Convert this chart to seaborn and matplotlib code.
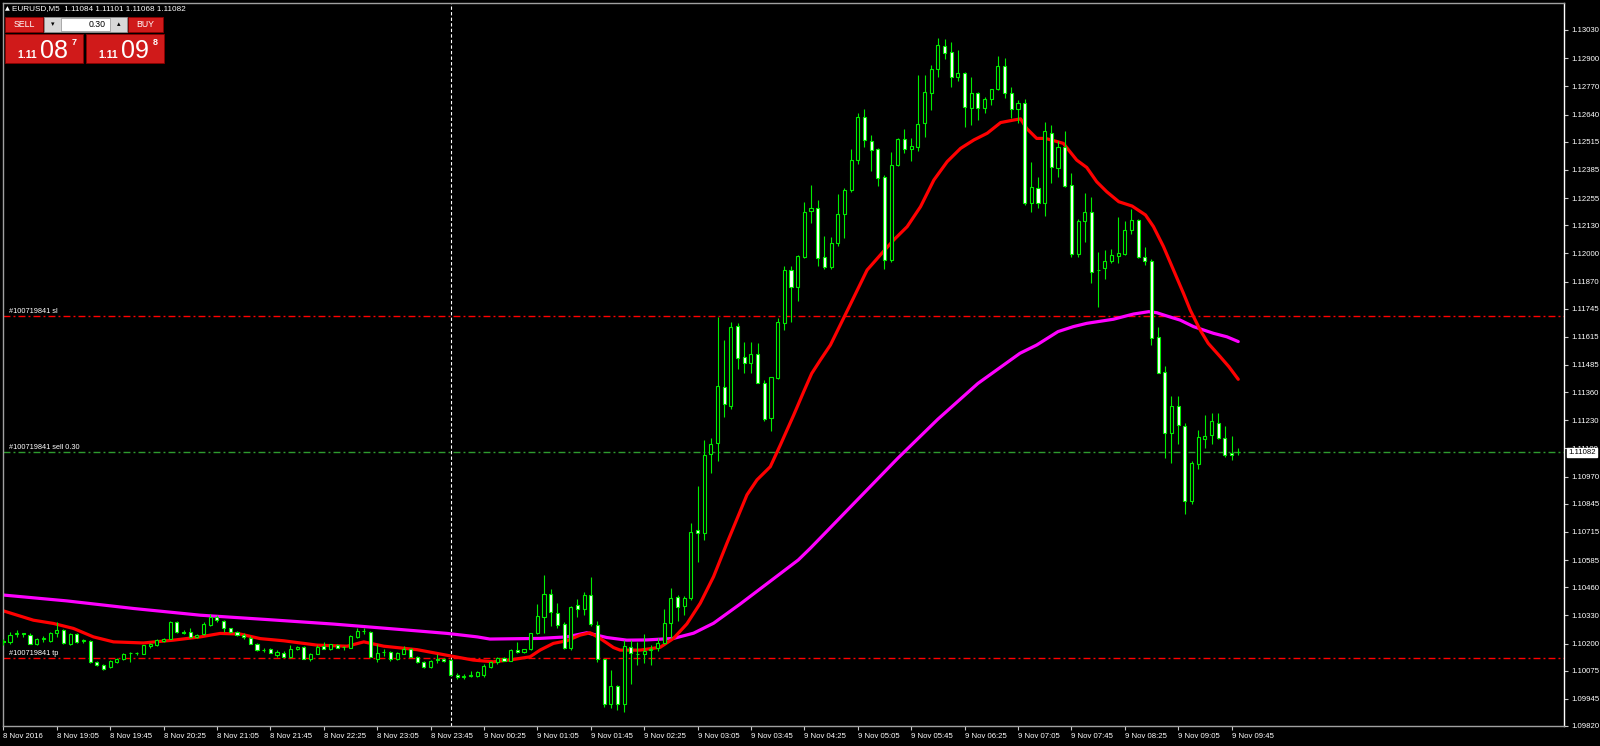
import numpy as np
import pandas as pd
import matplotlib
matplotlib.use("Agg")
import matplotlib.pyplot as plt
from matplotlib.patches import Rectangle
import seaborn as sns

# EURUSD M5 candles, 8 Nov 18:25 .. 9 Nov 09:50 (one value per bar)
opens = [1.10213, 1.10208, 1.10245, 1.10247, 1.10242, 1.10200, 1.10222, 1.10212, 1.10247, 1.10262,
         1.10200, 1.10243, 1.10214, 1.10213, 1.10116, 1.10100, 1.10093, 1.10116, 1.10127, 1.10156,
         1.10157, 1.10154, 1.10187, 1.10193, 1.10214, 1.10223, 1.10300, 1.10254, 1.10254, 1.10231,
         1.10243, 1.10285, 1.10323, 1.10305, 1.10270, 1.10254, 1.10239, 1.10228, 1.10200, 1.10172,
         1.10173, 1.10146, 1.10158, 1.10139, 1.10174, 1.10185, 1.10127, 1.10154, 1.10188, 1.10174,
         1.10193, 1.10185, 1.10182, 1.10231, 1.10257, 1.10254, 1.10131, 1.10162, 1.10162, 1.10127,
         1.10154, 1.10173, 1.10139, 1.10116, 1.10093, 1.10127, 1.10131, 1.10123, 1.10055, 1.10048,
         1.10052, 1.10049, 1.10055, 1.10093, 1.10113, 1.10132, 1.10121, 1.10170, 1.10159, 1.10173,
         1.10247, 1.10324, 1.10431, 1.10342, 1.10290, 1.10178, 1.10378, 1.10358, 1.10424, 1.10285,
         1.10127, 1.09921, 1.10004, 1.09921, 1.10185, 1.10150, 1.10152, 1.10170, 1.10178, 1.10204,
         1.10297, 1.10414, 1.10374, 1.10409, 1.10724, 1.10709, 1.11075, 1.11127, 1.11385, 1.11297,
         1.11665, 1.11520, 1.11493, 1.11534, 1.11400, 1.11239, 1.11424, 1.11680, 1.11923, 1.11843,
         1.11985, 1.12197, 1.12207, 1.11981, 1.11939, 1.12049, 1.12180, 1.12292, 1.12431, 1.12627,
         1.12520, 1.12480, 1.12351, 1.11969, 1.12408, 1.12526, 1.12480, 1.12492, 1.12603, 1.12738,
         1.12849, 1.12956, 1.12929, 1.12812, 1.12830, 1.12669, 1.12741, 1.12669, 1.12710, 1.12756,
         1.12864, 1.12741, 1.12664, 1.12695, 1.12230, 1.12300, 1.12234, 1.12556, 1.12392, 1.12489,
         1.12315, 1.11997, 1.12150, 1.12192, 1.11923, 1.11931, 1.11966, 1.11988, 1.11997, 1.12108,
         1.12154, 1.11982, 1.11966, 1.11613, 1.11454, 1.11170, 1.11296, 1.11204, 1.10860, 1.11028,
         1.11142, 1.11162, 1.11219, 1.11150, 1.11081, 1.11084]
highs = [1.10223, 1.10254, 1.10262, 1.10249, 1.10247, 1.10226, 1.10234, 1.10254, 1.10300, 1.10268,
         1.10247, 1.10250, 1.10223, 1.10216, 1.10120, 1.10104, 1.10123, 1.10135, 1.10158, 1.10159,
         1.10160, 1.10195, 1.10203, 1.10220, 1.10228, 1.10305, 1.10304, 1.10262, 1.10274, 1.10245,
         1.10300, 1.10336, 1.10331, 1.10310, 1.10274, 1.10258, 1.10247, 1.10233, 1.10205, 1.10180,
         1.10180, 1.10170, 1.10164, 1.10193, 1.10189, 1.10189, 1.10158, 1.10193, 1.10208, 1.10200,
         1.10197, 1.10187, 1.10240, 1.10274, 1.10270, 1.10258, 1.10198, 1.10177, 1.10166, 1.10160,
         1.10188, 1.10180, 1.10143, 1.10120, 1.10123, 1.10154, 1.10135, 1.10127, 1.10066, 1.10058,
         1.10075, 1.10075, 1.10105, 1.10118, 1.10139, 1.10136, 1.10174, 1.10208, 1.10175, 1.10250,
         1.10382, 1.10516, 1.10450, 1.10388, 1.10301, 1.10372, 1.10408, 1.10439, 1.10505, 1.10305,
         1.10130, 1.10078, 1.10010, 1.10216, 1.10216, 1.10208, 1.10244, 1.10194, 1.10224, 1.10358,
         1.10455, 1.10423, 1.10420, 1.10755, 1.10927, 1.11139, 1.11147, 1.11708, 1.11600, 1.11685,
         1.11680, 1.11593, 1.11593, 1.11588, 1.11416, 1.11430, 1.11700, 1.11941, 1.11941, 1.11994,
         1.12238, 1.12315, 1.12246, 1.12080, 1.12077, 1.12274, 1.12300, 1.12480, 1.12649, 1.12664,
         1.12544, 1.12484, 1.12361, 1.12469, 1.12530, 1.12572, 1.12530, 1.12823, 1.12823, 1.12869,
         1.12992, 1.12987, 1.12976, 1.12938, 1.12838, 1.12812, 1.12745, 1.12723, 1.12760, 1.12910,
         1.12899, 1.12766, 1.12707, 1.12710, 1.12422, 1.12350, 1.12607, 1.12592, 1.12519, 1.12566,
         1.12369, 1.12157, 1.12280, 1.12258, 1.12008, 1.12015, 1.12018, 1.12169, 1.12150, 1.12203,
         1.12157, 1.12031, 1.11972, 1.11659, 1.11480, 1.11342, 1.11342, 1.11219, 1.11040, 1.11185,
         1.11254, 1.11262, 1.11265, 1.11204, 1.11158, 1.11101]
lows = [1.10193, 1.10200, 1.10231, 1.10231, 1.10197, 1.10195, 1.10208, 1.10208, 1.10231, 1.10200,
        1.10195, 1.10205, 1.10205, 1.10112, 1.10096, 1.10077, 1.10089, 1.10110, 1.10123, 1.10116,
        1.10148, 1.10150, 1.10180, 1.10190, 1.10208, 1.10220, 1.10250, 1.10243, 1.10226, 1.10228,
        1.10240, 1.10280, 1.10300, 1.10254, 1.10250, 1.10235, 1.10223, 1.10197, 1.10165, 1.10160,
        1.10155, 1.10136, 1.10136, 1.10135, 1.10170, 1.10128, 1.10120, 1.10150, 1.10174, 1.10170,
        1.10180, 1.10170, 1.10178, 1.10228, 1.10245, 1.10136, 1.10116, 1.10142, 1.10120, 1.10124,
        1.10150, 1.10136, 1.10112, 1.10089, 1.10089, 1.10112, 1.10117, 1.10050, 1.10035, 1.10038,
        1.10045, 1.10045, 1.10047, 1.10088, 1.10104, 1.10119, 1.10119, 1.10155, 1.10155, 1.10170,
        1.10244, 1.10247, 1.10281, 1.10270, 1.10173, 1.10172, 1.10324, 1.10332, 1.10280, 1.10116,
        1.09909, 1.09901, 1.09893, 1.09885, 1.10016, 1.10101, 1.10112, 1.10101, 1.10168, 1.10200,
        1.10224, 1.10306, 1.10332, 1.10400, 1.10575, 1.10678, 1.10986, 1.11044, 1.11247, 1.11281,
        1.11465, 1.11447, 1.11450, 1.11400, 1.11228, 1.11182, 1.11420, 1.11646, 1.11685, 1.11782,
        1.11978, 1.12141, 1.11942, 1.11926, 1.11926, 1.12034, 1.12069, 1.12285, 1.12412, 1.12489,
        1.12381, 1.12311, 1.11926, 1.11962, 1.12403, 1.12461, 1.12428, 1.12474, 1.12535, 1.12661,
        1.12815, 1.12895, 1.12769, 1.12796, 1.12581, 1.12592, 1.12615, 1.12649, 1.12684, 1.12753,
        1.12715, 1.12623, 1.12600, 1.12223, 1.12192, 1.12207, 1.12172, 1.12326, 1.12353, 1.12307,
        1.11985, 1.11985, 1.12054, 1.11865, 1.11751, 1.11880, 1.11957, 1.11957, 1.11992, 1.12089,
        1.11977, 1.11946, 1.11577, 1.11447, 1.11055, 1.11035, 1.11121, 1.10798, 1.10844, 1.11004,
        1.11101, 1.11121, 1.11143, 1.11062, 1.11047, 1.11068]
closes = [1.10206, 1.10239, 1.10247, 1.10246, 1.10200, 1.10223, 1.10225, 1.10247, 1.10262, 1.10204,
          1.10243, 1.10208, 1.10216, 1.10116, 1.10100, 1.10081, 1.10120, 1.10131, 1.10154, 1.10158,
          1.10158, 1.10193, 1.10198, 1.10216, 1.10223, 1.10300, 1.10254, 1.10247, 1.10231, 1.10242,
          1.10289, 1.10323, 1.10308, 1.10270, 1.10254, 1.10239, 1.10231, 1.10200, 1.10170, 1.10170,
          1.10158, 1.10162, 1.10139, 1.10177, 1.10185, 1.10131, 1.10154, 1.10185, 1.10177, 1.10197,
          1.10182, 1.10186, 1.10234, 1.10257, 1.10258, 1.10139, 1.10158, 1.10163, 1.10131, 1.10158,
          1.10173, 1.10139, 1.10116, 1.10093, 1.10120, 1.10126, 1.10120, 1.10054, 1.10044, 1.10050,
          1.10054, 1.10069, 1.10096, 1.10116, 1.10133, 1.10121, 1.10170, 1.10159, 1.10173, 1.10247,
          1.10327, 1.10428, 1.10347, 1.10285, 1.10178, 1.10370, 1.10358, 1.10424, 1.10290, 1.10127,
          1.09921, 1.10004, 1.09921, 1.10189, 1.10155, 1.10152, 1.10168, 1.10174, 1.10204, 1.10297,
          1.10409, 1.10367, 1.10409, 1.10716, 1.10709, 1.11070, 1.11121, 1.11388, 1.11305, 1.11659,
          1.11516, 1.11493, 1.11534, 1.11404, 1.11234, 1.11428, 1.11685, 1.11923, 1.11846, 1.11988,
          1.12189, 1.12207, 1.11977, 1.11939, 1.12046, 1.12182, 1.12292, 1.12431, 1.12627, 1.12523,
          1.12477, 1.12346, 1.11969, 1.12408, 1.12526, 1.12480, 1.12495, 1.12597, 1.12746, 1.12849,
          1.12961, 1.12925, 1.12812, 1.12830, 1.12673, 1.12741, 1.12669, 1.12710, 1.12756, 1.12864,
          1.12738, 1.12664, 1.12695, 1.12231, 1.12304, 1.12234, 1.12565, 1.12396, 1.12489, 1.12310,
          1.11997, 1.12150, 1.12192, 1.11915, 1.11923, 1.11966, 1.11992, 1.12000, 1.12108, 1.12154,
          1.11982, 1.11965, 1.11608, 1.11450, 1.11173, 1.11296, 1.11208, 1.10860, 1.11032, 1.11152,
          1.11157, 1.11227, 1.11147, 1.11070, 1.11070, 1.11082]

# fast MA (red) at bar positions
red_bar = [0, 4.5, 7.5, 10.5, 13.5, 16.5, 21, 25.5, 29.5, 32.5, 35.5, 38.5, 42, 47, 51.5, 54, 57, 62,
           66.5, 70.4, 73.4, 76.4, 78.9, 80.4, 82.4, 84.4, 86.4, 87.9, 89.4, 91.4, 92.4, 95.4, 98.4,
           100.4, 102.4, 104.4, 106.4, 108.4, 111.4, 112.9, 114.9, 116.4, 118.4, 119.9, 121.1, 122.4,
           123.9, 126.5, 129.4, 131.4, 133.4, 135.4, 137.4, 139.4, 141.4, 143.4, 145.4, 147.4, 149.4,
           151.4, 152.4, 153.3, 154.8, 156.1, 157.1, 158.8, 159.6, 160.8, 162.3, 163.8, 165.3, 167.1,
           169.1, 171.1, 172.3, 173.8, 175.3, 176.8, 177.8, 179.3, 180.5, 182.3, 183.6, 185.0]
red_val = [1.10351, 1.10308, 1.10293, 1.10270, 1.10231, 1.10208, 1.10203, 1.10216, 1.10231, 1.10247,
           1.10244, 1.10223, 1.10213, 1.10193, 1.10188, 1.10208, 1.10188, 1.10172, 1.10146, 1.10124,
           1.10116, 1.10127, 1.10139, 1.10170, 1.10201, 1.10213, 1.10239, 1.10250, 1.10224, 1.10182,
           1.10170, 1.10170, 1.10183, 1.10224, 1.10291, 1.10386, 1.10509, 1.10663, 1.10886, 1.10955,
           1.11016, 1.11116, 1.11254, 1.11362, 1.11446, 1.11508, 1.11577, 1.11740, 1.11923, 1.11993,
           1.12062, 1.12123, 1.12215, 1.12338, 1.12423, 1.12484, 1.12523, 1.12554, 1.12603, 1.12615,
           1.12620, 1.12576, 1.12530, 1.12530, 1.12522, 1.12507, 1.12476, 1.12430, 1.12396, 1.12330,
           1.12284, 1.12238, 1.12218, 1.12177, 1.12123, 1.12031, 1.11923, 1.11815, 1.11739, 1.11646,
           1.11585, 1.11523, 1.11477, 1.11419]

# slow MA (magenta)
mag_bar = [0, 9.5, 19.5, 29.5, 39.5, 49.5, 59.5, 66.5, 71, 72.9, 80.4, 84.4, 87.4, 90.4, 93.4, 96.4,
           100.4, 103.4, 106.4, 110.4, 119.1, 120.9, 123.9, 128, 134, 140, 146, 152.3, 154.8, 158.0,
           160.3, 162.3, 166.3, 169.3, 171.6, 172.8, 174.3, 176.3, 178.3, 181.3, 183.3, 185.0]
mag_val = [1.10424, 1.10397, 1.10362, 1.10331, 1.10311, 1.10290, 1.10265, 1.10247, 1.10231, 1.10221,
           1.10224, 1.10231, 1.10250, 1.10228, 1.10216, 1.10217, 1.10224, 1.10248, 1.10294, 1.10383,
           1.10586, 1.10640, 1.10735, 1.10865, 1.11055, 1.11235, 1.11400, 1.11539, 1.11577, 1.11639,
           1.11662, 1.11677, 1.11696, 1.11720, 1.11731, 1.11726, 1.11711, 1.11692, 1.11662, 1.11631,
           1.11615, 1.11593]

time_labels = ["8 Nov 2016", "8 Nov 19:05", "8 Nov 19:45", "8 Nov 20:25", "8 Nov 21:05",
               "8 Nov 21:45", "8 Nov 22:25", "8 Nov 23:05", "8 Nov 23:45", "9 Nov 00:25",
               "9 Nov 01:05", "9 Nov 01:45", "9 Nov 02:25", "9 Nov 03:05", "9 Nov 03:45",
               "9 Nov 04:25", "9 Nov 05:05", "9 Nov 05:45", "9 Nov 06:25", "9 Nov 07:05",
               "9 Nov 07:45", "9 Nov 08:25", "9 Nov 09:05", "9 Nov 09:45"]
price_ticks = [1.13030, 1.12900, 1.12770, 1.12640, 1.12515, 1.12385, 1.12255, 1.12130, 1.12000,
               1.11870, 1.11745, 1.11615, 1.11485, 1.11360, 1.11230, 1.11100, 1.10970, 1.10845,
               1.10715, 1.10585, 1.10460, 1.10330, 1.10200, 1.10075, 1.09945, 1.09820]

sl_price = 1.11711
tp_price = 1.10132
open_price = 1.11084
bid = 1.11082
midnight_bar = 67

LIME = "#00ee00"
RED = "#d01a1a"

sns.set_theme(style="dark", rc={"axes.facecolor": "black", "figure.facecolor": "black"})
plt.rcParams["font.family"] = ["Liberation Sans", "DejaVu Sans"]

fig = plt.figure(figsize=(16, 7.46), dpi=100)
ax = fig.add_axes([3 / 1600, 20 / 746, 1561 / 1600, 723 / 746])

df = pd.DataFrame({"open": opens, "high": highs, "low": lows, "close": closes})
df["bar"] = np.arange(len(df))
up = df["close"] >= df["open"]

# moving averages
sns.lineplot(x=mag_bar, y=mag_val, color="#ff00ff", linewidth=2.3, ax=ax, zorder=2)
sns.lineplot(x=red_bar, y=red_val, color="#ff0000", linewidth=2.3, ax=ax, zorder=2)

# candles
ax.vlines(df["bar"], df["low"], df["high"], color=LIME, linewidth=0.8, zorder=3)
body_lo = df[["open", "close"]].min(axis=1)
body_h = (df["close"] - df["open"]).abs().clip(lower=0.00001)
ax.bar(df["bar"], body_h, bottom=body_lo, width=0.46,
       color=np.where(up, "black", "white"), edgecolor=LIME, linewidth=0.8, zorder=4)

# order lines
dashdot = (0, (5, 2.2, 1.4, 2.2))
ax.axhline(sl_price, color="#ff0000", linewidth=1, linestyle=dashdot, zorder=1)
ax.axhline(tp_price, color="#ff0000", linewidth=1, linestyle=dashdot, zorder=1)
ax.axhline(open_price, color="#2e9a2e", linewidth=1, linestyle=dashdot, zorder=1)
ax.axvline(midnight_bar, color="white", linewidth=0.8, linestyle=(0, (3, 2)), zorder=1)

lbl = dict(color="white", fontsize=5.3, va="bottom", ha="left",
           transform=ax.get_yaxis_transform())
ax.text(0.004, sl_price + 0.00004, "#100719841 sl", **lbl)
ax.text(0.004, open_price + 0.00004, "#100719841 sell 0.30", **lbl)
ax.text(0.004, tp_price + 0.00004, "#100719841 tp", **lbl)

ax.set_xlim(-0.05, 233.8)
ax.set_ylim(1.09820, 1.131545)
ax.set_xlabel("")
ax.set_ylabel("")

ax.yaxis.tick_right()
ax.set_yticks(price_ticks)
ax.set_yticklabels(["%.5f" % p for p in price_ticks])
ax.set_xticks(range(0, len(df), 8))
ax.set_xticklabels(time_labels, ha="left")
ax.tick_params(axis="both", direction="out", length=3, width=0.8, color="#c8c8c8",
               labelcolor="white", labelsize=5.6, pad=2)
ax.tick_params(axis="y", right=True, left=False)
ax.tick_params(axis="x", bottom=True)
for side in ["left", "top", "bottom"]:
    ax.spines[side].set_color("#a0a0a0")
    ax.spines[side].set_linewidth(1)
ax.spines["right"].set_color("white")
ax.spines["right"].set_linewidth(1)
ax.grid(False)

# bid price marker on the price scale
ax.annotate("%.5f" % bid, xy=(1.0, bid), xycoords=("axes fraction", "data"),
            xytext=(3, 0), textcoords="offset points", ha="left", va="center",
            fontsize=5.6, color="black",
            bbox=dict(boxstyle="square,pad=0.15", fc="white", ec="white"), zorder=20,
            annotation_clip=False)

# one-click trading panel, in pixel coordinates
ov = fig.add_axes([0, 0, 1, 1], zorder=10)
ov.set_xlim(0, 1600)
ov.set_ylim(746, 0)
ov.axis("off")
ov.patch.set_alpha(0)

ov.text(5, 9, "▲", color="white", fontsize=4.5, va="center", ha="left",
        family=["DejaVu Sans"])
ov.text(12, 9, "EURUSD,M5  1.11084 1.11101 1.11068 1.11082", color="white",
        fontsize=5.9, va="center", ha="left")

ov.add_patch(Rectangle((5, 17), 38, 15, fc=RED, ec="#8a0000", lw=0.6))
ov.text(24, 24.5, "SELL", color="white", fontsize=6.3, ha="center", va="center")
ov.add_patch(Rectangle((44, 17), 83, 15, fc="#d8d8d8", ec="#909090", lw=0.6))
ov.add_patch(Rectangle((61, 18), 49, 13, fc="white", ec="#909090", lw=0.5))
ov.text(52.5, 24, "▾", color="black", fontsize=5, ha="center", va="center",
        family=["DejaVu Sans"])
ov.text(118.5, 24, "▴", color="black", fontsize=5, ha="center", va="center",
        family=["DejaVu Sans"])
ov.text(106, 24.5, "0.30", color="black", fontsize=6.3, ha="right", va="center")
ov.add_patch(Rectangle((128, 17), 35, 15, fc=RED, ec="#8a0000", lw=0.6))
ov.text(145.5, 24.5, "BUY", color="white", fontsize=6.3, ha="center", va="center")

for x0, big, small in [(5, "08", "7"), (86, "09", "8")]:
    ov.add_patch(Rectangle((x0, 34), 78, 29, fc=RED, ec="#8a0000", lw=0.6))
    ov.text(x0 + 12, 58, "1.11", color="white", fontsize=7.5, fontweight="bold",
            ha="left", va="baseline")
    ov.text(x0 + 35, 58.5, big, color="white", fontsize=18, ha="left", va="baseline")
    ov.text(x0 + 67, 45, small, color="white", fontsize=6.5, fontweight="bold",
            ha="left", va="baseline")

fig.savefig("out.png", dpi=100, facecolor="black")
